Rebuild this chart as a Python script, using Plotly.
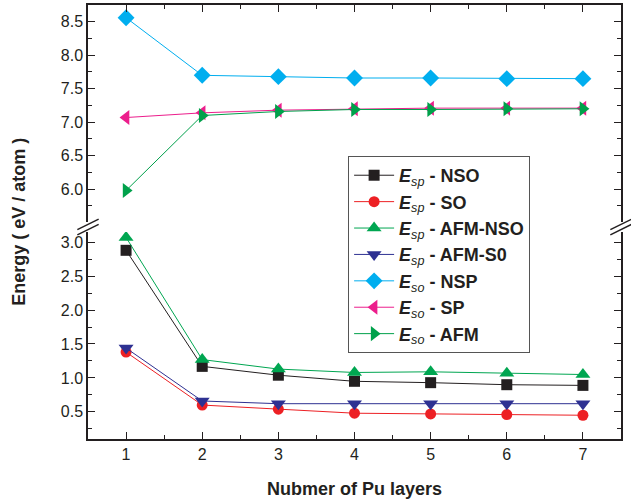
import plotly.graph_objects as go
from plotly.subplots import make_subplots

layers = [1, 2, 3, 4, 5, 6, 7]
esp_nso = [2.88, 1.17, 1.04, 0.95, 0.93, 0.90, 0.89]
esp_so = [1.38, 0.60, 0.54, 0.48, 0.47, 0.46, 0.45]
esp_afm_nso = [3.07, 1.27, 1.13, 1.08, 1.09, 1.07, 1.05]
esp_afm_s0 = [1.44, 0.66, 0.62, 0.62, 0.62, 0.62, 0.62]
eso_nsp = [8.56, 7.70, 7.68, 7.66, 7.66, 7.65, 7.65]
eso_sp = [7.07, 7.14, 7.18, 7.20, 7.21, 7.21, 7.21]
eso_afm = [5.98, 7.10, 7.16, 7.19, 7.19, 7.20, 7.20]

series = [
    ("<b><i>E</i></b><sub><i>sp</i></sub><b> - NSO</b>", esp_nso, "#231f20", "square", "lower"),
    ("<b><i>E</i></b><sub><i>sp</i></sub><b> - SO</b>", esp_so, "#ed2024", "circle", "lower"),
    ("<b><i>E</i></b><sub><i>sp</i></sub><b> - AFM-NSO</b>", esp_afm_nso, "#00a651", "triangle-up", "lower"),
    ("<b><i>E</i></b><sub><i>sp</i></sub><b> - AFM-S0</b>", esp_afm_s0, "#2e3192", "triangle-down", "lower"),
    ("<b><i>E</i></b><sub><i>so</i></sub><b> - NSP</b>", eso_nsp, "#00aeef", "diamond", "upper"),
    ("<b><i>E</i></b><sub><i>so</i></sub><b> - SP</b>", eso_sp, "#ec1e8c", "triangle-left", "upper"),
    ("<b><i>E</i></b><sub><i>so</i></sub><b> - AFM</b>", eso_afm, "#00a14b", "triangle-right", "upper"),
]

fig = make_subplots(rows=2, cols=1, shared_xaxes=False, vertical_spacing=0.0)

for name, vals, col, sym, panel in series:
    row = 1 if panel == "upper" else 2
    fig.add_trace(go.Scatter(
        x=layers, y=vals, name=name, mode="lines+markers",
        line=dict(color=col, width=1),
        marker=dict(color=col, symbol=sym, size=13 if sym not in ("square", "circle") else 11),
    ), row=row, col=1)

font_fam = "Liberation Sans, Arial, sans-serif"
axis_common = dict(showline=True, linecolor="#231f20", linewidth=1.5, ticks="inside",
                   ticklen=7, tickcolor="#231f20", showgrid=False, zeroline=False,
                   automargin=False, tickfont=dict(size=16, color="#231f20"))

fig.update_layout(
    width=631, height=502,
    margin=dict(l=88, r=10, t=5, b=63),
    plot_bgcolor="white", paper_bgcolor="white",
    font=dict(family=font_fam, size=16, color="#231f20"),
    showlegend=True,
    legend=dict(x=0.488, y=0.652, xanchor="left", yanchor="top",
                bordercolor="#555555", borderwidth=1, bgcolor="white",
                font=dict(family=font_fam, size=18, color="#231f20"),
                tracegroupgap=0, itemwidth=40),
    xaxis=dict(domain=[0, 1], range=[0.5, 7.5], side="top", showticklabels=False,
               dtick=1, minor=dict(ticks="inside", dtick=0.5, ticklen=4, tickcolor="#231f20"),
               **axis_common),
    xaxis2=dict(domain=[0, 1], range=[0.5, 7.5], dtick=1, showticklabels=True,
                minor=dict(ticks="inside", dtick=0.5, ticklen=4, tickcolor="#231f20"),
                **axis_common),
    yaxis=dict(domain=[0.5, 1], range=[5.51, 8.75], dtick=0.5, mirror="ticks",
               tickformat=".1f",
               minor=dict(ticks="inside", dtick=0.25, ticklen=4, tickcolor="#231f20"),
               **axis_common),
    yaxis2=dict(domain=[0, 0.477], range=[0.1, 3.15], dtick=0.5, tick0=0, mirror="ticks",
                tickformat=".1f",
                minor=dict(ticks="inside", dtick=0.25, ticklen=4, tickcolor="#231f20"),
                **axis_common),
)

# axis titles
fig.add_annotation(text="<b>Energy ( eV / atom )</b>", xref="paper", yref="paper",
                   x=-0.13, y=0.5, xanchor="center", yanchor="middle", textangle=-90,
                   showarrow=False, font=dict(size=18, family=font_fam, color="#231f20"))
fig.add_annotation(text="<b>Nubmer of Pu layers</b>", xref="paper", yref="paper",
                   x=0.5, y=-0.115, xanchor="center", yanchor="middle",
                   showarrow=False, font=dict(size=18, family=font_fam, color="#231f20"))

# axis break marks
for xb in (0, 1):
    for dy in (-0.006, 0.006):
        fig.add_shape(type="line", xref="paper", yref="paper",
                      x0=xb - 0.02, x1=xb + 0.02, y0=0.4885 + dy - 0.012, y1=0.4885 + dy + 0.012,
                      line=dict(color="#231f20", width=1.5))

fig.write_html("out.html", config={"displayModeBar": False},
               post_script="document.body.style.margin='0';document.body.style.overflow='hidden';")
